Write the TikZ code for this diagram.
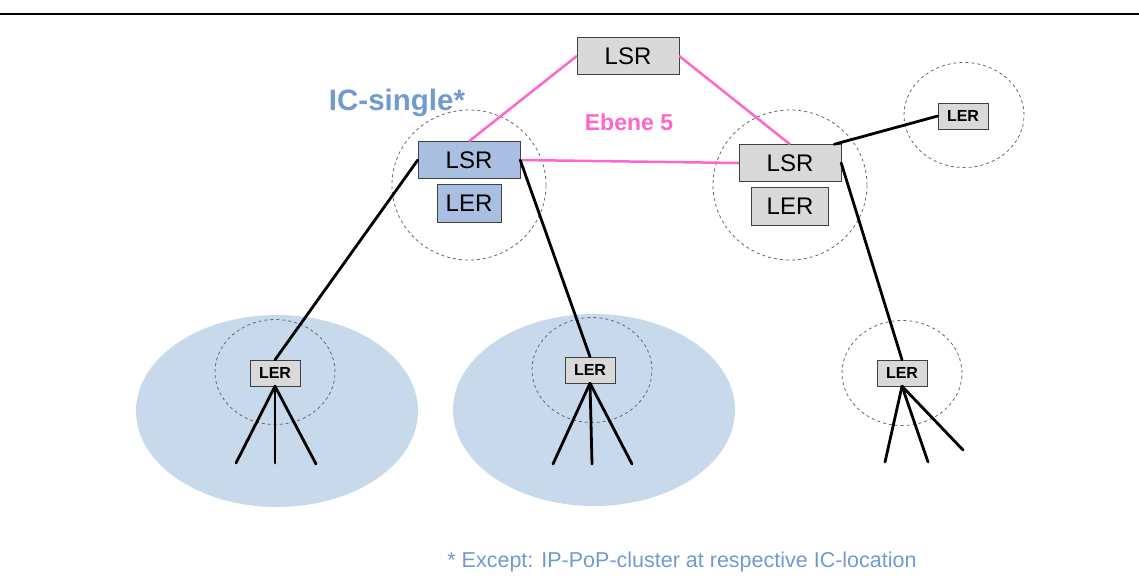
\documentclass[tikz,border=0pt]{standalone}
\usepackage{fontspec}
\setmainfont{Liberation Sans}
\usepackage{tikz}
\usetikzlibrary{positioning}
\usetikzlibrary{shapes.geometric}
\definecolor{boxgray}{RGB}{217, 217, 217}
\definecolor{boxblue}{RGB}{168, 191, 226}
\definecolor{cloudblue}{RGB}{201, 217, 236}
\definecolor{textblue}{RGB}{112, 154, 208}
\definecolor{pink}{RGB}{255, 102, 204}
\tikzset{
    router/.style = {
      rectangle,
      draw=black!75,
      fill=boxgray,
      inner sep=0pt,
      minimum width=102pt,
      minimum height=37pt,
      font=\fontsize{24}{28}\selectfont
    },
    edge/.style = {
      router,
      minimum width=64pt,
      minimum height=38pt
    },
    smalledge/.style = {
      router,
      minimum width=50pt,
      minimum height=26pt,
      font=\fontsize{16}{19}\selectfont\bfseries
    },
    site/.style = {
      ellipse,
      draw=black!60,
      dashed,
      line width=0.8pt,
      inner sep=0pt
    },
    cloud/.style = {
      ellipse,
      fill=cloudblue,
      inner sep=0pt,
      minimum width=282pt,
      minimum height=192pt
    },
    wire/.style = {line width=2.8pt, line cap=round},
    link/.style = {line width=2.5pt, draw=pink},
}

\begin{document}
\begin{tikzpicture}[x=1pt, y=-1pt]
      \useasboundingbox (0,0) rectangle (1139,576);
      \draw[line width=2pt] (0,14) -- (1139,14);

      % regions
      \node[cloud] (cloudA) at (277,411) {};
      \node[cloud] (cloudB) at (594,410) {};

      \node[site, minimum width=154pt, minimum height=150pt] (siteL) at (469,185) {};
      \node[site, minimum width=154pt, minimum height=150pt] (siteR) at (790,185) {};
      \node[site, minimum width=120pt, minimum height=105pt] (siteS) at (964,115) {};
      \node[site, minimum width=120pt, minimum height=105pt] (siteA) at (275,372) {};
      \node[site, minimum width=120pt, minimum height=105pt] (siteB) at (592,370) {};
      \node[site, minimum width=120pt, minimum height=105pt] (siteC) at (902,373) {};

      % routers
      \node[router] (lsrtop) at (628,56) {LSR};
      \node[router, fill=boxblue] (lsrleft) at (469,160) {LSR};
      \node[edge, fill=boxblue, below=5pt of lsrleft] (lerleft) {LER};
      \node[router] (lsrright) at (790,163) {LSR};
      \node[edge, minimum width=77pt, below=5pt of lsrright] (lerright) {LER};
      \node[smalledge] (lersmall) at (963,116) {LER};
      \node[smalledge] (lerA) at (275,373) {LER};
      \node[smalledge] (lerB) at (590,370) {LER};
      \node[smalledge] (lerC) at (902,373) {LER};

      % labels
      \node[text=textblue, font=\fontsize{29.5}{34}\selectfont\bfseries] (icsingle) at (397,103) {IC-single*};
      \node[text=pink, font=\fontsize{23}{28}\selectfont\bfseries] (ebene) at (629,122) {Ebene 5};
      \node[text=textblue, font=\fontsize{21.5}{26}\selectfont] (note) at (682,562) {* Except: IP-PoP-cluster at respective IC-location};

      % level 5 links
      \draw[link] (lsrtop.west) -- (lsrleft.north);
      \draw[link] (lsrtop.east) -- (lsrright.north);
      \draw[link] (lsrleft.east) -- (lsrright.west);

      % access links
      \draw[wire] (lsrleft.west) -- (lerA.north);
      \draw[wire] (lsrleft.east) -- (lerB.north);
      \draw[wire] (lsrright.east) -- (lerC.north);
      \draw[wire] ([xshift=-7pt]lsrright.north east) -- (lersmall.west);

      % fan out
      \foreach \i/\x/\y in {1/236/463, 2/275/463, 3/316/464} {
        \coordinate (fanA\i) at (\x,\y);
        \draw[wire] (lerA.south) -- (fanA\i);
      }
      \foreach \i/\x/\y in {1/553/464, 2/592/464, 3/632/464} {
        \coordinate (fanB\i) at (\x,\y);
        \draw[wire] (lerB.south) -- (fanB\i);
      }
      \foreach \i/\x/\y in {1/885/462, 2/928/462, 3/963/450} {
        \coordinate (fanC\i) at (\x,\y);
        \draw[wire] (lerC.south) -- (fanC\i);
      }
    \end{tikzpicture}
\end{document}
